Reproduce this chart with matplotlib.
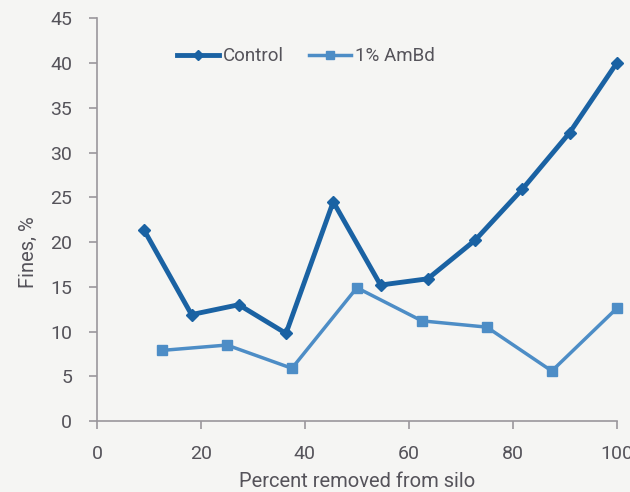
import matplotlib.pyplot as plt
import numpy as np

plt.rcParams['font.family'] = ['Roboto', 'DejaVu Sans']

# Control: 11 points, AmBd: 8 points
control_x = [9.09, 18.18, 27.27, 36.36, 45.45, 54.55, 63.64, 72.73, 81.82, 90.91, 100]
control_y = [21.3, 11.9, 13.0, 9.8, 24.5, 15.2, 15.9, 20.2, 25.9, 32.2, 40.0]
ambd_x = [12.5, 25, 37.5, 50, 62.5, 75, 87.5, 100]
ambd_y = [7.9, 8.5, 5.9, 14.9, 11.2, 10.5, 5.6, 12.6]
x_ticks = [0, 20, 40, 60, 80, 100]
y_ticks = [0, 5, 10, 15, 20, 25, 30, 35, 40, 45]

bg = '#f5f5f3'
axis_col = '#9a979c'
text_col = '#55535a'

fig = plt.figure(figsize=(6.3, 4.92), dpi=100, facecolor=bg)
ax = fig.add_axes([0.154, 0.144, 0.825, 0.819])
ax.set_facecolor('none')

ax.plot(control_x, control_y, color='#1a62a3', lw=3.5, marker='D', ms=6,
        label='Control', clip_on=False, zorder=3)
ax.plot(ambd_x, ambd_y, color='#4d8dc6', lw=2.5, marker='s', ms=7.5,
        label='1% AmBd', clip_on=False, zorder=2)

ax.set_xlim(0, 100)
ax.set_ylim(0, 45)
ax.set_xticks(x_ticks)
ax.set_yticks(y_ticks)
for s in ['top', 'right']:
    ax.spines[s].set_visible(False)
for s in ['left', 'bottom']:
    ax.spines[s].set_color(axis_col)
    ax.spines[s].set_linewidth(1.2)
ax.tick_params(colors=axis_col, labelcolor=text_col, labelsize=14,
               length=6, width=1.2, direction='out')
ax.tick_params(axis='y', pad=12)
ax.tick_params(axis='x', pad=11)

ax.set_xlabel('Percent removed from silo', fontsize=14.5, color=text_col)
ax.set_ylabel('Fines, %', fontsize=14.5, color=text_col)
ax.xaxis.set_label_coords(0.5, -0.127)
ax.yaxis.set_label_coords(-0.113, 0.42)

leg = ax.legend(loc='center left', bbox_to_anchor=(0.14, 0.905), ncol=2,
                frameon=False, fontsize=13.5, handlelength=2.25, columnspacing=1.3,
                handletextpad=0.2, markerscale=0.8, borderaxespad=0)
for t in leg.get_texts():
    t.set_color(text_col)

fig.savefig('out.png', dpi=100, facecolor=bg)
